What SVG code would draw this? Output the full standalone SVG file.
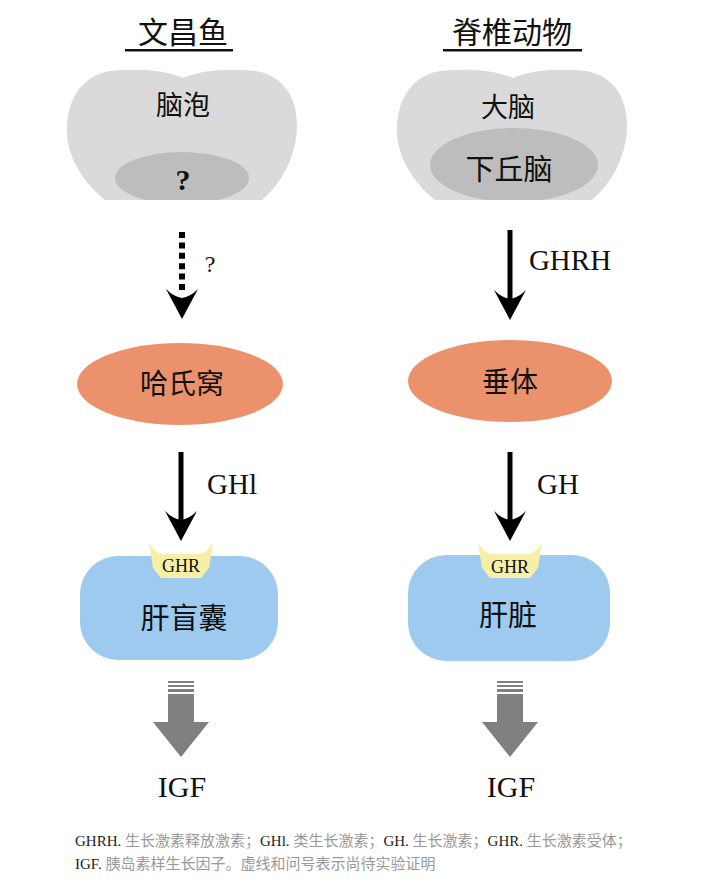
<svg xmlns="http://www.w3.org/2000/svg" width="705" height="888" viewBox="0 0 705 888">
<style>
.t{font-family:"Liberation Serif","Noto Sans CJK SC",serif;fill:#111;text-anchor:middle}
.cjk{font-family:"Noto Sans CJK SC",sans-serif;fill:#111;text-anchor:middle}
.brain{fill:#dadada}
.hypo{fill:#bdbdbd}
.pit{fill:#eb926c}
.liver{fill:#9ecaf0}
.ghr{fill:#f6f0a6}
.igf{fill:#808080}
.ln{stroke:#000;stroke-width:5;fill:none}
.fl{font-family:"Liberation Serif","Noto Sans CJK SC",serif;font-size:15px;fill:#222}
.fc{fill:#999;font-family:"Noto Sans CJK SC",sans-serif}
</style>
<defs>
<path id="brainShape" d="M105,200 C80,180 65,152 67,125 C69,95 85,75 110,71 C140,68 165,70 183,78 C201,70 226,68 256,71 C281,75 297,95 297,125 C297,152 285,180 262,200 Z"/>
<clipPath id="cl"><use href="#brainShape"/></clipPath>
<clipPath id="cr"><use href="#brainShape" transform="translate(330,0)"/></clipPath>
<path id="head" d="M0,0 L-16,-30 Q-8,-22 0,-21 Q8,-22 16,-30 Z" fill="#000"/>
<path id="cup" d="M-32,543 Q-26,553 -18,554 L18,554 Q26,553 32,543 L28,568 L20,578 L-20,578 L-28,568 Z"/>
<g id="bigArrow">
<rect x="-13" y="681" width="26" height="2"/>
<rect x="-13" y="685" width="26" height="2"/>
<rect x="-13" y="689" width="26" height="3"/>
<path d="M-13,694 L13,694 L13,722 L28,722 L0,757 L-28,722 L-13,722 Z"/>
</g>
</defs>

<g id="title-left">
<text class="cjk" x="183" y="43" font-size="30">文昌鱼</text>
<rect x="125" y="49" width="108" height="2.5" fill="#111"/>
</g>
<g id="title-right">
<text class="cjk" x="512" y="43" font-size="30">脊椎动物</text>
<rect x="443" y="49" width="139" height="2.5" fill="#111"/>
</g>

<g id="brain-left">
<use href="#brainShape" class="brain"/>
<ellipse cx="182" cy="178" rx="67" ry="26" class="hypo" clip-path="url(#cl)"/>
<text class="cjk" x="183" y="115" font-size="27">脑泡</text>
<text class="t" x="183" y="190" font-size="30" font-weight="bold">?</text>
</g>
<g id="brain-right">
<use href="#brainShape" class="brain" transform="translate(330,0)"/>
<ellipse cx="514" cy="165" rx="84" ry="37" class="hypo" clip-path="url(#cr)"/>
<text class="cjk" x="508" y="117" font-size="27">大脑</text>
<text class="cjk" x="509" y="180" font-size="29">下丘脑</text>
</g>

<g id="hatschek">
<ellipse cx="180" cy="384" rx="103" ry="41" class="pit"/>
<text class="cjk" x="182" y="394" font-size="28">哈氏窝</text>
</g>
<g id="pituitary">
<ellipse cx="510" cy="381" rx="102" ry="41" class="pit"/>
<text class="cjk" x="510" y="392" font-size="28">垂体</text>
</g>

<g id="cecum">
<rect x="80" y="556" width="198" height="104" rx="38" class="liver"/>
<use href="#cup" class="ghr" transform="translate(181,0)"/>
<text class="t" x="181" y="572" font-size="18">GHR</text>
<text class="cjk" x="184" y="629" font-size="29">肝盲囊</text>
</g>
<g id="liver">
<rect x="408" y="555" width="202" height="106" rx="38" class="liver"/>
<use href="#cup" class="ghr" transform="translate(510,0)"/>
<text class="t" x="510" y="573" font-size="18">GHR</text>
<text class="cjk" x="508" y="626" font-size="29">肝脏</text>
</g>

<g id="igf-left">
<use href="#bigArrow" class="igf" transform="translate(181,0)"/>
<text class="t" x="182" y="797" font-size="30">IGF</text>
</g>
<g id="igf-right">
<use href="#bigArrow" class="igf" transform="translate(510,0)"/>
<text class="t" x="511" y="797" font-size="30">IGF</text>
</g>

<g id="connectors">
<line x1="182" y1="232" x2="182" y2="292" stroke="#000" stroke-width="6" stroke-dasharray="6 4.4"/>
<use href="#head" transform="translate(182,319)"/>
<text class="t" x="210" y="272" font-size="24">?</text>

<line x1="510" y1="230" x2="510" y2="300" class="ln"/>
<use href="#head" transform="translate(510,320)"/>
<text class="t" x="570" y="270" font-size="29">GHRH</text>

<line x1="181" y1="452" x2="181" y2="520" class="ln"/>
<use href="#head" transform="translate(181,541)"/>
<text class="t" x="232" y="494" font-size="29">GHl</text>

<line x1="510" y1="452" x2="510" y2="520" class="ln"/>
<use href="#head" transform="translate(510,541)"/>
<text class="t" x="558" y="494" font-size="29">GH</text>
</g>

<g id="footer">
<text class="fl" x="75" y="846">GHRH. <tspan class="fc">生长激素释放激素；</tspan>GHl. <tspan class="fc">类生长激素；</tspan>GH. <tspan class="fc">生长激素；</tspan>GHR. <tspan class="fc">生长激素受体；</tspan></text>
<text class="fl" x="75" y="869">IGF. <tspan class="fc">胰岛素样生长因子。虚线和问号表示尚待实验证明</tspan></text>
</g>
</svg>
